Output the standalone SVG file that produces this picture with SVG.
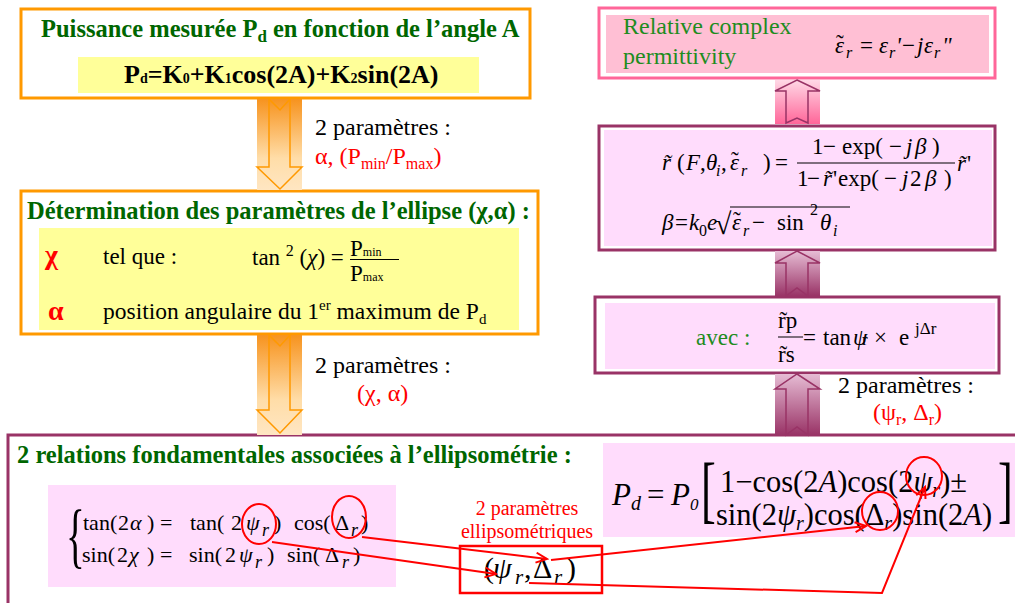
<svg xmlns="http://www.w3.org/2000/svg" width="1015" height="603" viewBox="0 0 1015 603" font-family="'Liberation Serif', 'Times New Roman', serif">
<defs>
<linearGradient id="gOr" x1="0" y1="0" x2="0" y2="1">
<stop offset="0" stop-color="#F7931E"/>
<stop offset="0.65" stop-color="#FFDDA8"/>
<stop offset="1" stop-color="#FFE6C2"/>
</linearGradient>
<linearGradient id="gPk" x1="0" y1="0" x2="0" y2="1">
<stop offset="0" stop-color="#FFD8E6"/>
<stop offset="1" stop-color="#FF6699"/>
</linearGradient>
<linearGradient id="gMv" x1="0" y1="0" x2="0" y2="1">
<stop offset="0" stop-color="#E6BCD4"/>
<stop offset="1" stop-color="#993366"/>
</linearGradient>
<marker id="ah" markerWidth="14" markerHeight="14" refX="12" refY="6" orient="auto" markerUnits="userSpaceOnUse">
<path d="M1,1 L12,6 L1,11" fill="none" stroke="#FF0000" stroke-width="2"/>
</marker>
</defs>
<style>
text{font-family:"Liberation Serif","Times New Roman",serif;fill:#000}
.tg{fill:#006600;font-weight:bold}
.g{fill:#1E8C1E}
.red{fill:#FF0000}
.i{font-style:italic}
.ob{fill:#fff;stroke:#FF9900;stroke-width:3}
.yl{fill:#FFFF99}
.mb{fill:#fff;stroke:#993366;stroke-width:3}
.pf{fill:#FFDCFC}
.ao{fill:none;stroke:#FF9900;stroke-width:1.5}
.am{fill:none;stroke:#993366;stroke-width:1.5}
.rl{fill:none;stroke:#FF0000;stroke-width:2}
.f22{font-size:22px}
.f23{font-size:23px}
.f24{font-size:24px}
</style>

<g id="n-puissance">
<rect class="ob" x="21" y="9" width="509" height="89"/>
<rect class="yl" x="78" y="57" width="401" height="36"/>
<text x="41" y="37" class="tg" font-size="24.5">Puissance mesurée P<tspan font-size="17" dy="5">d</tspan><tspan dy="-5"> en fonction de l’angle A</tspan></text>
<text x="124" y="83" font-weight="bold" font-size="26">P<tspan font-size="14">d</tspan>=K<tspan font-size="14">0</tspan>+K<tspan font-size="14">1</tspan>cos(2A)+K<tspan font-size="14">2</tspan>sin(2A)</text>
</g>

<g id="n-determination">
<rect class="ob" x="21" y="191" width="517" height="143"/>
<rect class="yl" x="39" y="228" width="480" height="102"/>
<text x="27" y="219" class="tg" font-size="24.5">Détermination des paramètres de l’ellipse (χ,α) :</text>
<text x="45" y="264" class="red" font-weight="bold" font-size="28">χ</text>
<text x="103" y="264" class="f23">tel que :</text>
<text x="252" y="265" class="f23">tan <tspan font-size="16" dy="-9">2</tspan><tspan dy="9"> (</tspan><tspan class="i">χ</tspan>) =</text>
<text x="350" y="256" class="f23">P<tspan font-size="12">min</tspan></text>
<line x1="350" y1="259.5" x2="399" y2="259.5" stroke="#000" stroke-width="1"/>
<text x="350" y="281" class="f23">P<tspan font-size="12">max</tspan></text>
<text x="48" y="320" class="red" font-weight="bold" font-size="28">α</text>
<text x="103" y="319" font-size="23.5">position angulaire du 1<tspan font-size="15" dy="-9">er</tspan><tspan dy="9"> maximum de P</tspan><tspan font-size="15" dy="5">d</tspan></text>
</g>

<g id="n-relations">
<rect class="mb" x="8" y="435" width="1030" height="200" fill="none"/>
<rect class="pf" x="48" y="485" width="348" height="102"/>
<rect class="pf" x="603" y="443" width="420" height="94"/>
<text x="17" y="463" class="tg" font-size="24.5">2 relations fondamentales associées à l’ellipsométrie :</text>
<text transform="translate(66,559) scale(0.55,1)" font-size="71">{</text>
<text y="530" class="f22"><tspan x="83">tan(</tspan><tspan x="118">2</tspan><tspan x="130" class="i">α</tspan><tspan x="147">)</tspan><tspan x="160">=</tspan><tspan x="190">tan(</tspan><tspan x="231">2</tspan><tspan x="246" class="i">ψ</tspan><tspan x="262" class="i" font-size="18" dy="6">r</tspan><tspan x="274" dy="-6">)</tspan><tspan x="294">cos(</tspan><tspan x="335">Δ</tspan><tspan x="351" class="i" font-size="18" dy="6">r</tspan><tspan x="361" dy="-6">)</tspan></text>
<text y="562" class="f22"><tspan x="82">sin(</tspan><tspan x="117">2</tspan><tspan x="129" class="i">χ</tspan><tspan x="147">)</tspan><tspan x="160">=</tspan><tspan x="189">sin(</tspan><tspan x="225">2</tspan><tspan x="239" class="i">ψ</tspan><tspan x="255" class="i" font-size="18" dy="6">r</tspan><tspan x="267" dy="-6">)</tspan><tspan x="287">sin(</tspan><tspan x="325">Δ</tspan><tspan x="342" class="i" font-size="18" dy="6">r</tspan><tspan x="353" dy="-6">)</tspan></text>
<text y="505" font-size="31"><tspan x="612" class="i">P</tspan><tspan x="631" class="i" font-size="20" dy="5">d</tspan><tspan x="647" dy="-5">=</tspan><tspan x="671" class="i">P</tspan><tspan x="690" class="i" font-size="17" dy="5">0</tspan></text>
<text transform="translate(701,514) scale(0.6,1)" font-size="74">[</text>
<text transform="translate(998,514) scale(0.6,1)" font-size="74">]</text>
<text x="720" y="492" font-size="30.5">1−cos(2<tspan class="i">A</tspan>)cos(2<tspan class="i">ψ</tspan><tspan class="i" font-size="20" dy="5">r</tspan><tspan dy="-5">)±</tspan></text>
<text x="716" y="525" font-size="30.5">sin(2<tspan class="i">ψ</tspan><tspan class="i" font-size="20" dy="5">r</tspan><tspan dy="-5">)cos(Δ</tspan><tspan class="i" font-size="20" dy="5">r</tspan><tspan dy="-5">)sin(2</tspan><tspan class="i">A</tspan>)</text>
</g>

<g id="n-params-ellipso">
<text x="527" y="515" class="red" font-size="20" text-anchor="middle">2 paramètres</text>
<text x="527" y="538" class="red" font-size="20" text-anchor="middle">ellipsométriques</text>
<rect x="460" y="546" width="142" height="47" fill="none" stroke="#FF0000" stroke-width="2.5"/>
<text y="578" font-size="30"><tspan x="484">(</tspan><tspan x="493" class="i">ψ</tspan><tspan x="515" class="i" font-size="21" dy="6">r</tspan><tspan x="524" dy="-6">,</tspan><tspan x="533">Δ</tspan><tspan x="554" class="i" font-size="21" dy="6">r</tspan><tspan x="566" dy="-6">)</tspan></text>
</g>

<g id="n-permittivity">
<rect x="599" y="8" width="396" height="70" fill="#fff" stroke="#FF6699" stroke-width="3"/>
<rect x="606" y="15" width="383" height="58" fill="#FFBFD4"/>
<text x="623" y="34" class="g f24">Relative complex</text>
<text x="623" y="64" class="g f24">permittivity</text>
<text y="53" font-size="23" class="i"><tspan x="835">ε</tspan><tspan x="846" font-size="16" dy="5">r</tspan><tspan x="860" dy="-5" font-style="normal">=</tspan><tspan x="879">ε</tspan><tspan x="889" font-size="16" dy="5">r</tspan><tspan x="896" dy="-5">'</tspan><tspan x="902" font-style="normal">−</tspan><tspan x="917">j</tspan><tspan x="924">ε</tspan><tspan x="934" font-size="16" dy="5">r</tspan><tspan x="942" dy="-5">"</tspan></text>
<text x="836" y="51" font-size="23">˜</text>
</g>

<g id="n-reflection">
<rect class="mb" x="599" y="126" width="396" height="124"/>
<rect class="pf" x="604" y="130" width="388" height="116"/>
<text y="170" font-size="23"><tspan x="662" class="i">r̃</tspan><tspan x="677">(</tspan><tspan x="686" class="i">F</tspan><tspan x="700">,</tspan><tspan x="706" class="i">θ</tspan><tspan x="716" class="i" font-size="16" dy="6">i</tspan><tspan x="721" dy="-6">,</tspan><tspan x="730" class="i">ε</tspan><tspan x="741" class="i" font-size="16" dy="6">r</tspan><tspan x="763" dy="-6">)</tspan><tspan x="775">=</tspan></text>
<text x="731" y="168" font-size="23">˜</text>
<text y="154" font-size="23"><tspan x="812">1</tspan><tspan x="823">−</tspan><tspan x="842">exp(</tspan><tspan x="889">−</tspan><tspan x="906" class="i">j</tspan><tspan x="915" class="i">β</tspan><tspan x="932">)</tspan></text>
<line x1="797" y1="163" x2="955" y2="163" stroke="#000" stroke-width="1"/>
<text y="186" font-size="23"><tspan x="797">1</tspan><tspan x="807">−</tspan><tspan x="823" class="i">r̃</tspan><tspan x="833">'</tspan><tspan x="838">exp(</tspan><tspan x="884">−</tspan><tspan x="902" class="i">j</tspan><tspan x="910">2</tspan><tspan x="925" class="i">β</tspan><tspan x="944">)</tspan></text>
<text y="171" font-size="23"><tspan x="957" class="i">r̃</tspan><tspan x="967">'</tspan></text>
<text y="230" font-size="23"><tspan x="662" class="i">β</tspan><tspan x="675">=</tspan><tspan x="689" class="i">k</tspan><tspan x="699" font-size="16" dy="6">0</tspan><tspan x="707" class="i" dy="-6">e</tspan><tspan x="732" class="i">ε</tspan><tspan x="743" class="i" font-size="16" dy="6">r</tspan><tspan x="752" dy="-6">−</tspan><tspan x="777">sin</tspan><tspan x="810" font-size="16" dy="-15">2</tspan><tspan x="820" class="i" dy="15">θ</tspan><tspan x="833" class="i" font-size="16" dy="6">i</tspan></text>
<text x="733" y="228" font-size="23">˜</text>
<text x="715" y="234" font-size="30">√</text>
<line x1="730" y1="207" x2="850" y2="207" stroke="#000" stroke-width="1"/>
</g>

<g id="n-ratio">
<rect class="mb" x="595" y="297" width="404" height="76"/>
<rect class="pf" x="605" y="303" width="390" height="66"/>
<text x="696" y="345" class="g f23">avec :</text>
<text x="778" y="328" class="f23">r̃p</text>
<line x1="778" y1="337" x2="803" y2="337" stroke="#000" stroke-width="1"/>
<text x="778" y="362" class="f23">r̃s</text>
<text y="345" class="f23"><tspan x="803">=</tspan><tspan x="823">tan</tspan><tspan x="853" class="i">ψ</tspan><tspan x="862" font-size="17">r</tspan><tspan x="874">×</tspan><tspan x="899">e</tspan><tspan x="915" font-size="17" dy="-11">jΔr</tspan></text>
</g>

<g id="n-param-labels">
<text x="315" y="135" class="f24">2 paramètres :</text>
<text x="315" y="164" class="red f24">α, (P<tspan font-size="16" dy="5">min</tspan><tspan dy="-5">/P</tspan><tspan font-size="16" dy="5">max</tspan><tspan dy="-5">)</tspan></text>
<text x="315" y="373" class="f24">2 paramètres :</text>
<text x="357" y="401" class="red f24">(χ, α)</text>
<text x="838" y="393" class="f24">2 paramètres :</text>
<text x="873" y="420" class="red f24">(ψ<tspan font-size="16" dy="5">r</tspan><tspan dy="-5">, Δ</tspan><tspan font-size="16" dy="5">r</tspan><tspan dy="-5">)</tspan></text>
</g>

<g id="connectors">
<rect x="257" y="99" width="45" height="91" fill="url(#gOr)"/>
<path class="ao" d="M269,99 L280,110 L290,99 L290,167 L302,167 L280,189 L257,167 L269,167 Z"/>
<rect x="257" y="335" width="45" height="100" fill="url(#gOr)"/>
<path class="ao" d="M269,335 L280,346 L290,335 L290,410 L302,410 L280,433 L257,410 L269,410 Z"/>
<rect x="775" y="80" width="45" height="44" fill="url(#gPk)"/>
<path class="am" d="M797,80 L820,91 L808,91 L808,123 L797,118 L786,123 L786,91 L775,91 Z"/>
<rect x="775" y="251" width="45" height="45" fill="url(#gMv)"/>
<path class="am" d="M797,251 L820,263 L808,263 L808,296 L797,288 L786,296 L786,263 L775,263 Z"/>
<rect x="775" y="374" width="45" height="61" fill="url(#gMv)"/>
<path class="am" d="M797,374 L820,389 L808,389 L808,435 L797,427 L786,435 L786,389 L775,389 Z"/>
<ellipse class="rl" cx="259" cy="524" rx="17" ry="20"/>
<ellipse class="rl" cx="349" cy="517" rx="17" ry="21"/>
<ellipse class="rl" cx="924" cy="476" rx="18" ry="19"/>
<ellipse class="rl" cx="880" cy="511" rx="18" ry="19"/>
<line class="rl" x1="362" y1="537" x2="547" y2="559" marker-end="url(#ah)"/>
<line class="rl" x1="272" y1="542" x2="496" y2="574" marker-end="url(#ah)"/>
<line class="rl" x1="551" y1="560" x2="866" y2="526" marker-end="url(#ah)"/>
<polyline class="rl" points="529,583 882,593 925,487" marker-end="url(#ah)"/>
</g>
</svg>
